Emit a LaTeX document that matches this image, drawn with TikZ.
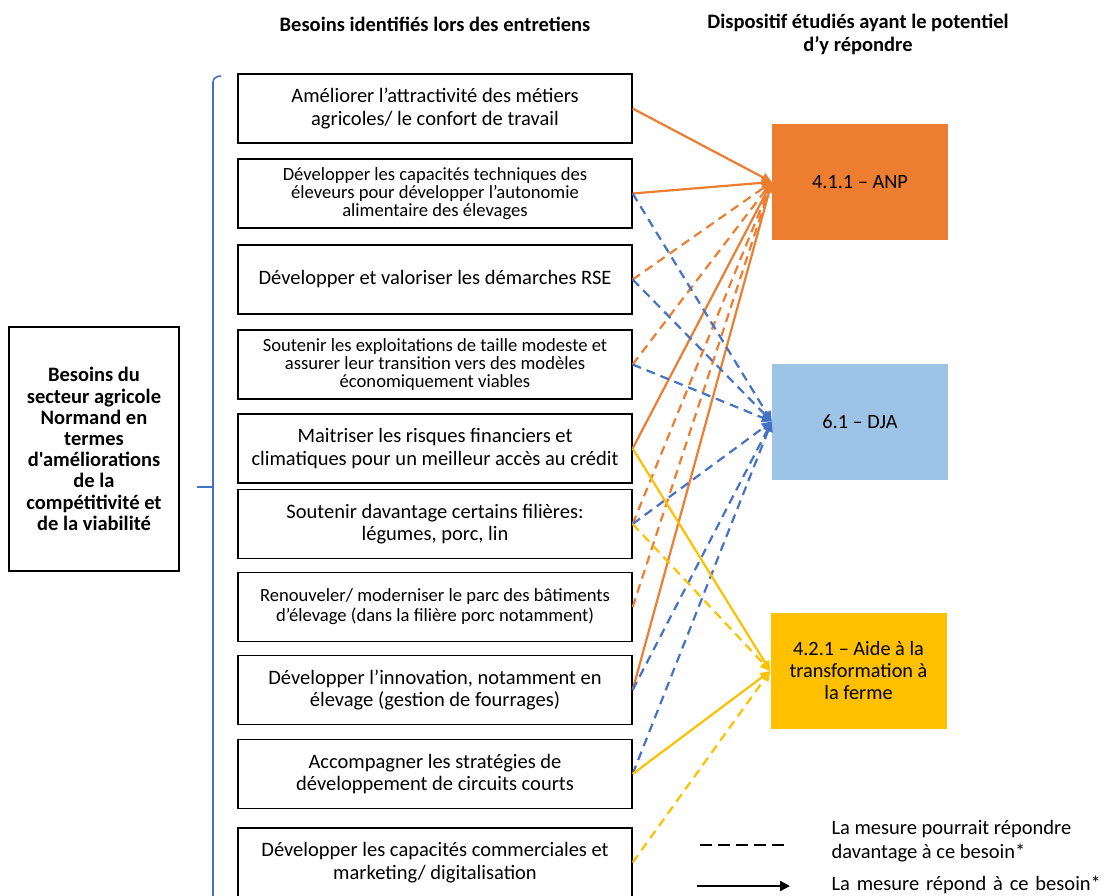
\documentclass[tikz,border=0pt]{standalone}
\usepackage{fontspec}
\setmainfont{Carlito}[Ligatures=TeXOff]
\usetikzlibrary{positioning,arrows.meta,calc}
\definecolor{orange}{HTML}{ED7D31}
\definecolor{blue}{HTML}{4472C4}
\definecolor{lightblue}{HTML}{9DC3E6}
\definecolor{yellow}{HTML}{FFC000}

\begin{document}
\begin{tikzpicture}[x=1pt, y=-1pt,
    besoin/.style={draw, line width=1.3pt, minimum width=394pt, minimum height=69pt,
                   align=center, inner sep=2pt, font=\fontsize{20.5}{22.5}\selectfont},
    petit/.style={font=\fontsize{18.6}{18}\selectfont},
    dispositif/.style={minimum width=176pt, minimum height=116pt, align=center,
                       inner sep=2pt, font=\fontsize{20.3}{22}\selectfont},
    titre/.style={font=\bfseries\fontsize{20.5}{23}\selectfont, align=center},
    lien/.style={line width=2.2pt, -{Triangle[length=10pt,width=9pt]}},
    pourrait/.style={lien, dash pattern=on 9pt off 6pt}
  ]
    \useasboundingbox (0,0) rectangle (1116,895);

    % Titles
    \node[titre] (titreBesoins) at (435,24) {Besoins identifiés lors des entretiens};
    \node[titre] (titreDispositifs) at (858,34) {Dispositif étudiés ayant le potentiel\\d’y répondre};

    % Left: sector box and brace
    \node[draw, line width=1.3pt, minimum width=170pt, minimum height=244pt, align=center,
          inner sep=0pt, font=\bfseries\fontsize{20.5}{21.2}\selectfont] (secteur) at (94,449)
      {Besoins du\\secteur agricole\\Normand en\\termes\\d'améliorations\\de la\\compétitivité et\\de la viabilité};
    \draw[blue, line width=1.6pt] (221,76) to[out=180,in=90] (213,82) -- (213,900);
    \draw[blue, line width=1.6pt] (197,487) -- (213,487);

    % Needs
    \node[besoin] (besoin1) at (435,108.5) {Améliorer l’attractivité des métiers\\agricoles/ le confort de travail};
    \node[besoin, petit] (besoin2) at (435,193.5) {Développer les capacités techniques des\\éleveurs pour développer l’autonomie\\alimentaire des élevages};
    \node[besoin] (besoin3) at (435,279.5) {Développer et valoriser les démarches RSE};
    \node[besoin, petit] (besoin4) at (435,364.5) {Soutenir les exploitations de taille modeste et\\assurer leur transition vers des modèles\\économiquement viables};
    \node[besoin] (besoin5) at (435,448.5) {Maitriser les risques financiers et\\climatiques pour un meilleur accès au crédit};
    \node[besoin] (besoin6) at (435,524) {Soutenir davantage certains filières:\\légumes, porc, lin};
    \node[besoin, font=\fontsize{18.6}{20}\selectfont] (besoin7) at (435,607) {Renouveler/ moderniser le parc des bâtiments\\d’élevage (dans la filière porc notamment)};
    \node[besoin] (besoin8) at (435,690) {Développer l’innovation, notamment en\\élevage (gestion de fourrages)};
    \node[besoin] (besoin9) at (435,774) {Accompagner les stratégies de\\développement de circuits courts};
    \node[besoin] (besoin10) at (435,862.5) {Développer les capacités commerciales et\\marketing/ digitalisation};

    % Measures
    \node[dispositif, fill=orange] (anp) at (860,182) {4.1.1 – ANP};
    \node[dispositif, fill=lightblue] (dja) at (860,421.5) {6.1 – DJA};
    \node[dispositif, fill=yellow] (aide) at (858.5,671) {4.2.1 – Aide à la\\transformation à\\la ferme};

    % ANP links
    \draw[lien, orange] (besoin1.east) -- (anp.west);
    \draw[lien, orange] (besoin2.east) -- (anp.west);
    \draw[pourrait, orange] (besoin3.east) -- (anp.west);
    \draw[pourrait, orange] (besoin4.east) -- (anp.west);
    \draw[lien, orange] (besoin5.east) -- (anp.west);
    \draw[pourrait, orange] (besoin6.east) -- (anp.west);
    \draw[pourrait, orange] (besoin7.east) -- (anp.west);
    \draw[lien, orange] (besoin8.east) -- (anp.west);

    % DJA links
    \draw[pourrait, blue] (besoin2.east) -- (dja.west);
    \draw[pourrait, blue] (besoin3.east) -- (dja.west);
    \draw[pourrait, blue] (besoin4.east) -- (dja.west);
    \draw[pourrait, blue] (besoin6.east) -- (dja.west);
    \draw[pourrait, blue] (besoin8.east) -- (dja.west);
    \draw[pourrait, blue] (besoin9.east) -- (dja.west);

    % Aide links
    \draw[lien, yellow] (besoin5.east) -- (aide.west);
    \draw[pourrait, yellow] (besoin6.east) -- (aide.west);
    \draw[lien, yellow] (besoin9.east) -- (aide.west);
    \draw[pourrait, yellow] (besoin10.east) -- (aide.west);

    % Legend
    \coordinate (legPourraitA) at (700,845);
    \coordinate (legPourraitB) at (788,845);
    \coordinate (legRepondA) at (697,886);
    \coordinate (legRepondB) at (790,886);
    \draw[line width=2.2pt, dash pattern=on 12pt off 6pt] (legPourraitA) -- (legPourraitB);
    \draw[line width=2.2pt, -{Triangle[length=10pt,width=10pt]}] (legRepondA) -- (legRepondB);
    \node[anchor=west, align=left, font=\fontsize{20.5}{24}\selectfont] (legPourrait) at (828,841)
      {La mesure pourrait répondre\\davantage à ce besoin*};
    \node[anchor=west, font=\fontsize{20.5}{24}\selectfont, text width=300pt] (legRepond) at (828,885) {La mesure répond à ce besoin*};
  \end{tikzpicture}
\end{document}
